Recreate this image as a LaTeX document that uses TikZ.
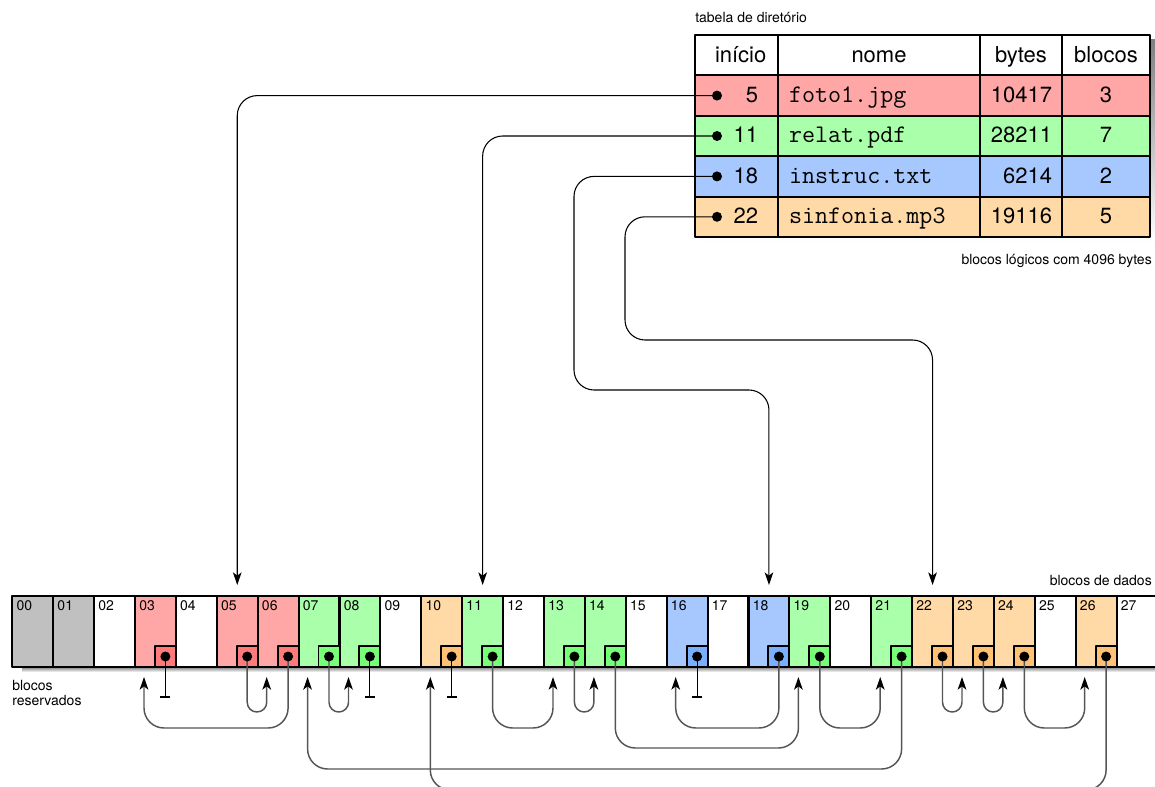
\documentclass[tikz,border=0pt]{standalone}
\usepackage{fontspec}
\setmainfont{TeX Gyre Heros}
\usepackage{tikz}
\usetikzlibrary{
    arrows.meta,
    positioning,
    calc,
    backgrounds
}
\definecolor{ink}   {HTML}{000000}
\definecolor{wire}  {HTML}{555555}
\definecolor{shade} {HTML}{9C9C9C}
\definecolor{rsv}   {HTML}{C0C0C0}
\definecolor{c1}{HTML}{FFA6A6}
\definecolor{c1pt}{HTML}{FF7B7B}
\definecolor{c2}{HTML}{AAFFAA}
\definecolor{c2pt}{HTML}{77FF77}
\definecolor{c3}{HTML}{A6C8FF}
\definecolor{c3pt}{HTML}{7AAEFF}
\definecolor{c4}{HTML}{FFD9A6}
\definecolor{c4pt}{HTML}{FFC275}
\newcommand{\tabfont}{\fontsize{16.5}{19}\selectfont}
\newcommand{\tabmono}{\ttfamily\fontsize{19}{21}\selectfont}
\newcommand{\lblfont}{\fontsize{10.5}{11}\selectfont}

\begin{document}
\begin{tikzpicture}[
    x=0.75pt, y=-0.75pt,
    line cap=round, line join=round,
    >={Stealth[length=9.5pt, width=6.5pt, inset=2.5pt, color=ink]},
    %% --- semantic styles ---
    block/.style    = {rectangle, draw=ink, line width=1.6pt,
                       minimum width=30.675pt, minimum height=53.25pt,
                       inner sep=0pt, outer sep=0pt},
    ptrbox/.style   = {rectangle, draw=ink, line width=1.4pt,
                       minimum size=15.75pt, inner sep=0pt, outer sep=0pt},
    dot/.style      = {circle, fill=ink, minimum size=7.5pt, inner sep=0pt},
    num/.style      = {anchor=north west, font=\lblfont, inner sep=3pt},
    note/.style     = {font=\lblfont, inner sep=0pt},
    link/.style     = {->, draw=wire, line width=1.1pt},
    endlink/.style  = {-{Bar[width=7.5pt]}, draw=ink, line width=0.8pt},
    fileptr/.style  = {->, draw=ink, line width=0.8pt, rounded corners=15pt},
    tcell/.style    = {rectangle, draw=ink, fill=white, line width=1.6pt,
                       minimum height=30.3pt, inner ysep=0pt, outer sep=0pt,
                       text height=12.5pt, text depth=2pt, font=\tabfont},
    colA/.style     = {tcell, text width=32.25pt, inner xsep=15pt, align=right},
    colB/.style     = {tcell, text width=135pt, inner xsep=8.25pt, align=left,
                       font=\tabmono},
    colC/.style     = {tcell, text width=46.5pt, inner xsep=7.5pt, align=right},
    colD/.style     = {tcell, text width=58pt, inner xsep=4pt, align=center}
]
\useasboundingbox (0,0) rectangle (1155,787);
\clip (0,0) rectangle (1155,787);

%% =====================================================
%% DIRECTORY TABLE
%% =====================================================
\node[note, anchor=west] (TTL) at (695,18) {tabela de diretório};

\node[colA, align=center, anchor=north west] (h1) at (695,35) {início};
\node[colB, align=center, font=\tabfont, right=0pt of h1] (h2) {nome};
\node[colC, align=center, right=0pt of h2] (h3) {bytes};
\node[colD, right=0pt of h3] (h4) {blocos};

\foreach \r/\c/\start/\fname/\nbytes/\nblk in {
    1/c1/5/foto1.jpg/10417/3,
    2/c2/11/relat.pdf/28211/7,
    3/c3/18/instruc.txt/6214/2,
    4/c4/22/sinfonia.mp3/19116/5}
{
    \node[colA, fill=\c, anchor=north west] (ta\r) at (695,{35+40.4*\r}) {\start};
    \node[colB, fill=\c, right=0pt of ta\r] (tb\r) {\fname};
    \node[colC, fill=\c, right=0pt of tb\r] (tc\r) {\nbytes};
    \node[colD, fill=\c, right=0pt of tc\r] (td\r) {\nblk};
    \node[dot] (d\r) at ($(ta\r.west)+(22,0)$) {};
}

\begin{scope}[on background layer]
    \fill[shade] ($(h1.north west)+(5,5)$) rectangle ($(td4.south east)+(5,5)$);
\end{scope}
\node[note, anchor=east] (LOG) at (1152,261) {blocos lógicos com 4096 bytes};

%% =====================================================
%% DATA BLOCKS
%% =====================================================
\foreach \c [count=\k from 0] in {rsv,rsv,white,c1,white,c1,c1,c2,c2,white,
    c4,c2,white,c2,c2,white,c3,white,c3,c2,white,c2,c4,c4,c4,white,c4,white}
{
    \node[block, fill=\c] (b\k) at ({32.75+40.9*\k},631.5) {};
    \node[num] (n\k) at (b\k.north west) {\ifnum\k<10 0\fi\k};
    \coordinate (in\k) at ($(b\k.south west)+(9,10)$);
}

\begin{scope}[on background layer]
    \fill[shade] ($(b0.south west)+(10,0)$) rectangle ($(b27.south east)+(5,5)$);
\end{scope}

\node[note, anchor=east] (DAT) at (1152,580) {blocos de dados};
\node[note, anchor=north west, align=left] (RSV) at (12,680) {blocos\\reservados};

% next-block pointers
\foreach \k/\c in {3/c1pt,5/c1pt,6/c1pt,7/c2pt,8/c2pt,10/c4pt,11/c2pt,13/c2pt,
    14/c2pt,16/c3pt,18/c3pt,19/c2pt,21/c2pt,22/c4pt,23/c4pt,24/c4pt,26/c4pt}
    \node[ptrbox, fill=\c] (p\k) at ($(b\k.south east)+(-10.5,-10.5)$) {};

%% =====================================================
%% Chains
%% =====================================================
\foreach \a/\b/\d/\r in {5/6/35/7.3pt, 6/3/51/15pt,
    11/13/51/15pt, 13/14/35/7.3pt, 14/19/71/15pt, 19/21/51/15pt,
    21/7/92/15pt, 7/8/35/7.3pt, 18/16/51/15pt,
    22/23/35/7.3pt, 23/24/35/7.3pt, 24/26/51/15pt, 26/10/113/15pt}
    \draw[link, rounded corners=\r] (p\a.center) |- ($(in\b)+(0,\d)$) -- (in\b);

\foreach \k in {3,8,10,16}
    \draw[endlink] (p\k.center) -- ($(p\k.center)+(0,41)$);

\foreach \k in {3,5,6,7,8,10,11,13,14,16,18,19,21,22,23,24,26}
    \node[dot] (q\k) at (p\k.center) {};

%% =====================================================
%% First blocks from the directory
%% =====================================================
\draw[fileptr] (d1.center) -| ($(b5.north)+(0,-11)$);
\draw[fileptr] (d2.center) -| ($(b11.north)+(0,-11)$);
\draw[fileptr] (d3.center) -| (574,390) -| ($(b18.north)+(0,-11)$);
\draw[fileptr] (d4.center) -| (625,340) -| ($(b22.north)+(0,-11)$);

\end{tikzpicture}
\end{document}
